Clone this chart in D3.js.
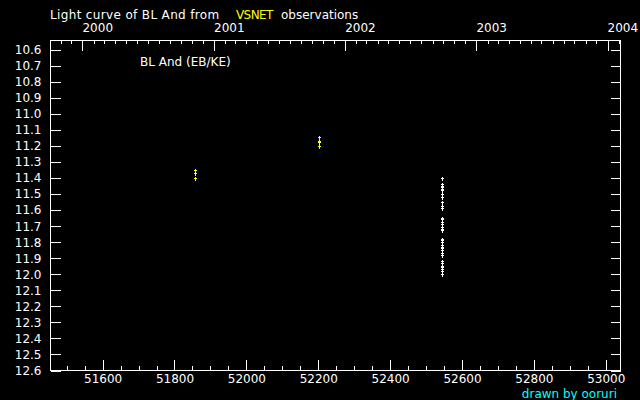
<!DOCTYPE html>
<html>
<head>
<meta charset="utf-8">
<script src="https://cdn.jsdelivr.net/npm/d3@7"></script>
<style>
  html, body { margin: 0; padding: 0; background: #000; }
  svg { display: block; }
  text { font-family: "DejaVu Sans", sans-serif; font-size: 12px; fill: #fff; }
</style>
</head>
<body>
<script>
  // light curve data, MJD and visual magnitude
  let groupYellowA = { mjd: 51858, mags: [11.35, 11.37, 11.40] }
  let groupYellowB = { mjd: 52203, mags: [11.15, 11.17, 11.18, 11.20] }
  let groupWhite = {
    mjd: 52545,
    mags: [11.40, 11.44, 11.45, 11.46, 11.47, 11.48, 11.50, 11.52, 11.55, 11.58,
      11.59, 11.65, 11.66, 11.68, 11.69, 11.71, 11.72, 11.73, 11.78, 11.79,
      11.80, 11.82, 11.83, 11.84, 11.85, 11.87, 11.88, 11.92, 11.93, 11.95,
      11.96, 11.97, 11.98, 12.00]
  }
  let yTicks = d3.range(0, 21).map(i => +(10.6 + i * 0.1).toFixed(1))
  let xTicksMajor = [51600, 51800, 52000, 52200, 52400, 52600, 52800, 53000]
  let xTicksMinor = d3.range(51500, 53041, 50)
  let yearLabels = ['2000', '2001', '2002', '2003', '2004']

  let W = 640, H = 400
  let L = 50, R = 620, T = 40, B = 370

  let svg = d3.select('body').append('svg').attr('width', W).attr('height', H)

  let x = d3.scaleLinear().domain([51455, 53041]).range([L, R])
  let y = d3.scaleLinear().domain([10.542, 12.6]).range([T, B])

  // MJD <-> date
  let mjd0 = Date.UTC(1858, 10, 17)
  let toDate = m => new Date(mjd0 + m * 86400000)
  let t = d3.scaleUtc().domain([toDate(51455), toDate(53041)]).range([L, R])

  // frame
  svg.append('rect')
    .attr('x', L + 0.5).attr('y', T + 0.5)
    .attr('width', R - L).attr('height', B - T)
    .style('fill', 'none').style('stroke', '#fff')
    .attr('shape-rendering', 'crispEdges')

  function styleAxis(g) {
    g.select('.domain').remove()
    g.selectAll('line').style('stroke', '#fff').attr('shape-rendering', 'crispEdges')
    g.selectAll('text').style('fill', '#fff')
      .style('font-family', '"DejaVu Sans", sans-serif').style('font-size', '12px')
  }

  // bottom axis (MJD)
  svg.append('g').attr('transform', 'translate(0.5,' + (B + 0.5) + ')')
    .call(d3.axisBottom(x).tickValues(xTicksMinor).tickSize(-5).tickFormat(''))
    .call(styleAxis)
  svg.append('g').attr('transform', 'translate(0.5,' + (B + 0.5) + ')')
    .call(d3.axisBottom(x).tickValues(xTicksMajor).tickSize(-11).tickPadding(4).tickFormat(d3.format('d')))
    .call(styleAxis)

  // top axis (calendar)
  let years = yearLabels.map(s => new Date(Date.UTC(+s, 0, 1)))
  svg.append('g').attr('transform', 'translate(0.5,' + (T + 0.5) + ')')
    .call(d3.axisBottom(t).ticks(d3.utcMonth.every(1)).tickSize(3).tickFormat(''))
    .call(styleAxis)
  svg.append('g').attr('transform', 'translate(0.5,' + (T + 0.5) + ')')
    .call(d3.axisBottom(t).tickValues(years).tickSize(10).tickFormat(''))
    .call(styleAxis)
  svg.selectAll('.year').data(years).enter().append('text')
    .attr('class', 'year')
    .attr('x', d => t(d) + 0.5)
    .attr('y', 32)
    .text((d, i) => yearLabels[i])

  // left and right axes (magnitude)
  svg.append('g').attr('transform', 'translate(' + (L + 0.5) + ',0.5)')
    .call(d3.axisLeft(y).tickValues(yTicks).tickSize(-10).tickPadding(9).tickFormat(d3.format('.1f')))
    .call(styleAxis)
  svg.append('g').attr('transform', 'translate(' + (R + 0.5) + ',0.5)')
    .call(d3.axisRight(y).tickValues(yTicks).tickSize(-10).tickFormat(''))
    .call(styleAxis)

  // observations as small crosses
  function crosses(group, color) {
    svg.append('g').selectAll('path').data(group.mags).enter().append('path')
      .attr('d', m => {
        let cx = Math.round(x(group.mjd)) + 0.5, cy = Math.round(y(m)) + 0.5
        return 'M' + (cx - 1.5) + ',' + cy + 'H' + (cx + 1.5) + 'M' + cx + ',' + (cy - 2) + 'V' + (cy + 2)
      })
      .style('stroke', color).style('stroke-width', 1).style('fill', 'none')
      .attr('shape-rendering', 'crispEdges')
  }
  crosses(groupYellowA, '#ffff00')
  crosses(groupYellowB, '#ffff00')
  crosses(groupWhite, '#ffffff')

  // texts
  let title = svg.append('text').attr('x', 50).attr('y', 19)
  title.append('tspan').style('letter-spacing', '0.35px').text('Light curve of BL And from')
  title.append('tspan').attr('x', 236).style('letter-spacing', '-0.6px').style('fill', '#ffff00').text('VSNET')
  title.append('tspan').attr('x', 281).text('observations')

  svg.append('text').attr('x', 140).attr('y', 66).text('BL And (EB/KE)')

  svg.append('text').attr('x', 617).attr('y', 398)
    .attr('text-anchor', 'end').style('fill', '#00ffff').text('drawn by ooruri')
</script>
</body>
</html>
